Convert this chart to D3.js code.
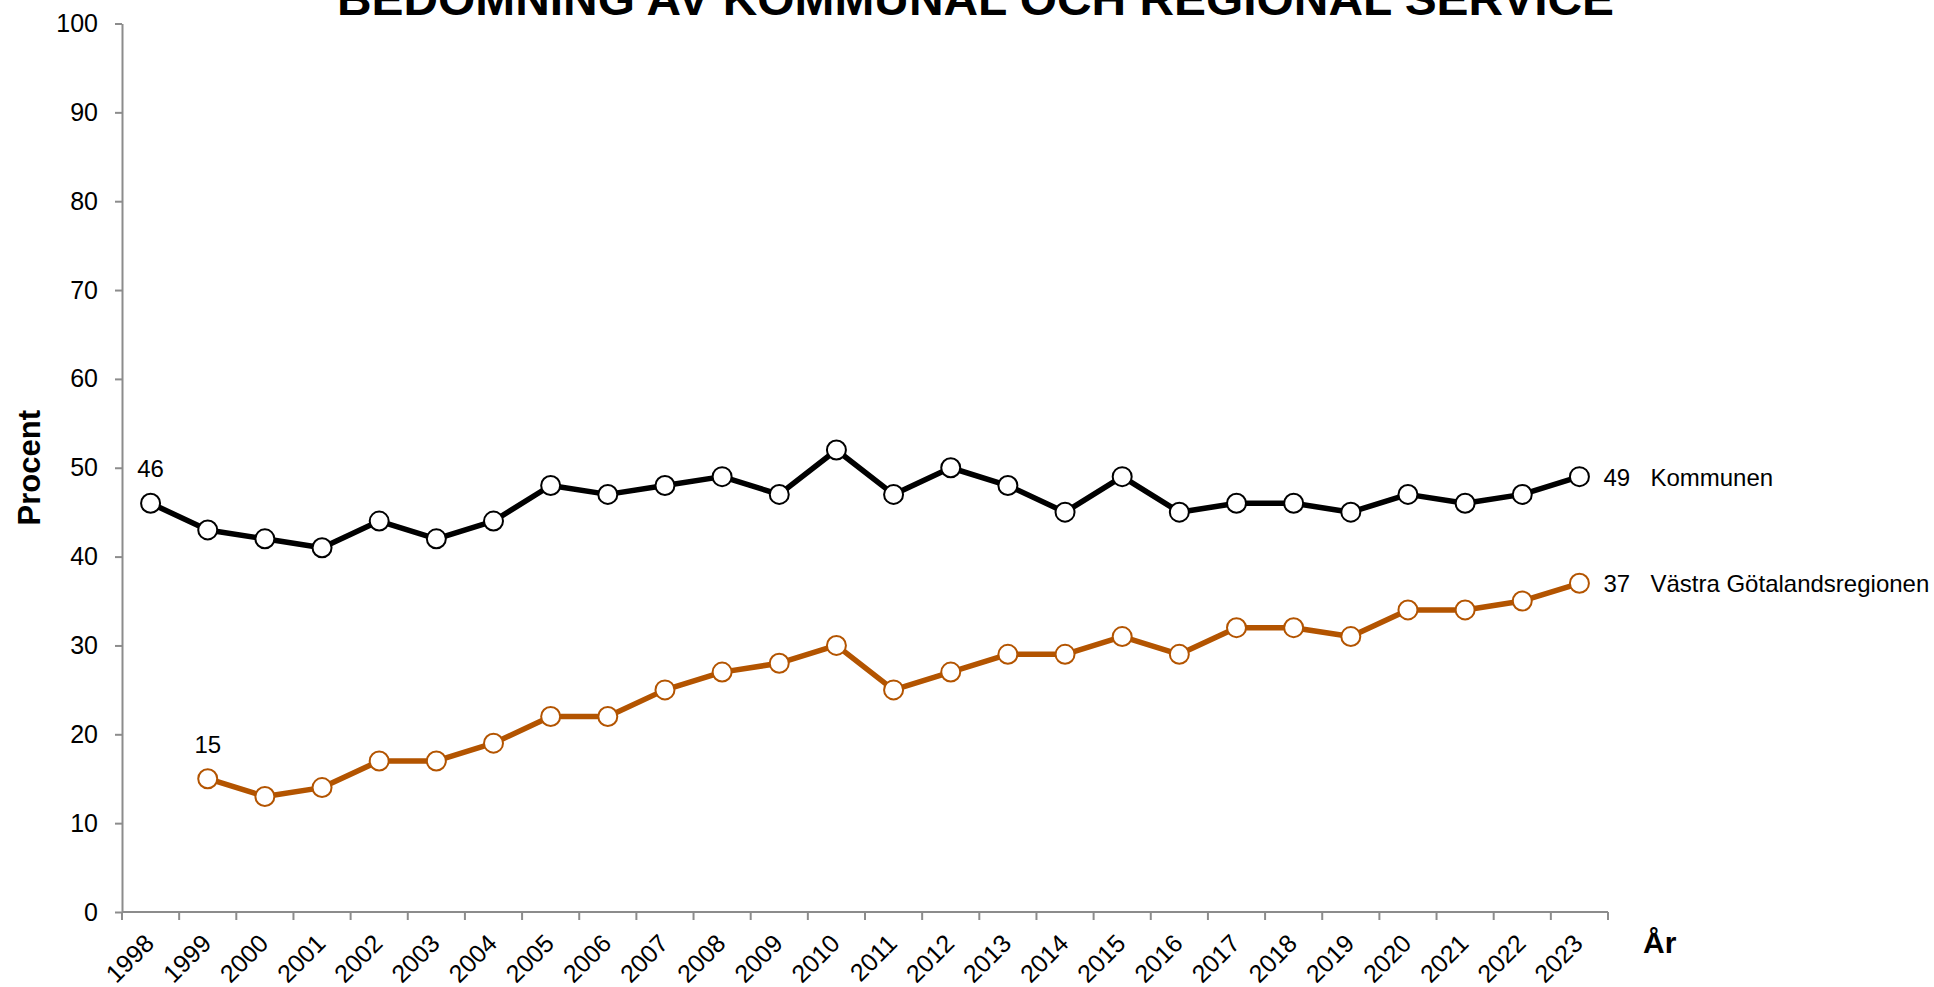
<!DOCTYPE html>
<html>
<head>
<meta charset="utf-8">
<script src="https://cdn.jsdelivr.net/npm/d3@7"></script>
<style>
  html, body { margin: 0; padding: 0; background: #fff; }
  svg { display: block; font-family: "Liberation Sans", Arial, sans-serif; }
  .axis path, .axis line { stroke: #8c8c8c; stroke-width: 2; }
  .axis text { fill: #000; }
</style>
</head>
<body>
<svg id="chart" width="1934" height="987"></svg>
<script>
// Data
const years = ['1998','1999','2000','2001','2002','2003','2004','2005','2006','2007','2008','2009','2010',
  '2011','2012','2013','2014','2015','2016','2017','2018','2019','2020','2021','2022','2023']
const kommunen = [46,43,42,41,44,42,44,48,47,48,49,47,52,47,50,48,45,49,45,46,46,45,47,46,47,49]
const vgr = [null,15,13,14,17,17,19,22,22,25,27,28,30,25,27,29,29,31,29,32,32,31,34,34,35,37]
const y_ticks = [0,10,20,30,40,50,60,70,80,90,100]

const series = [
  { name: 'Kommunen', values: kommunen, color: '#000000' },
  { name: 'Västra Götalandsregionen', values: vgr, color: '#b35400' }
]

const svg = d3.select('#chart')

// Scales
let x = d3.scaleBand().domain(years).range([122, 1608]).padding(0)
let y = d3.scaleLinear().domain([0, 100]).range([912, 23.5])
let cx = d => x(d) + x.bandwidth() / 2

// Title (top is cut off in the original)
svg.append('text')
  .attr('x', 337)
  .attr('y', 15)
  .attr('textLength', 1277)
  .attr('lengthAdjust', 'spacingAndGlyphs')
  .style('font-size', '46px')
  .style('font-weight', 'bold')
  .text('BEDÖMNING AV KOMMUNAL OCH REGIONAL SERVICE')

// Y axis
let y_axis = svg.append('g')
  .attr('class', 'axis')
  .attr('transform', 'translate(122,0)')
  .call(d3.axisLeft(y).tickValues(y_ticks).tickSize(7).tickPadding(17).tickSizeOuter(0))
y_axis.selectAll('text').style('font-size', '25px')

// X axis line and boundary ticks
let x_axis = svg.append('g').attr('class', 'axis')
x_axis.append('line')
  .attr('x1', 122).attr('x2', 1608)
  .attr('y1', y(0)).attr('y2', y(0))
let bounds = years.map(d => x(d)).concat([x.range()[1]])
x_axis.selectAll('.btick')
  .data(bounds)
  .enter()
  .append('line')
    .attr('class', 'btick')
    .attr('x1', d => d).attr('x2', d => d)
    .attr('y1', y(0)).attr('y2', y(0) + 8)

// Year labels
svg.append('g')
  .selectAll('text')
  .data(years)
  .enter()
  .append('text')
    .attr('text-anchor', 'end')
    .attr('transform', d => `translate(${cx(d) + 5},${y(0) + 33}) rotate(-45)`)
    .style('font-size', '25px')
    .text(d => d)

// Axis titles
svg.append('text')
  .attr('transform', `translate(40,${y(50)}) rotate(-90)`)
  .attr('text-anchor', 'middle')
  .style('font-size', '31px')
  .style('font-weight', 'bold')
  .text('Procent')

svg.append('text')
  .attr('x', 1643)
  .attr('y', 953)
  .style('font-size', '30px')
  .style('font-weight', 'bold')
  .text('År')

// Lines and markers
let line = d3.line()
  .defined(d => d[1] != null)
  .x(d => cx(d[0]))
  .y(d => y(d[1]))

for (let s of series) {
  let pts = years.map((yr, i) => [yr, s.values[i]])
  let g = svg.append('g')

  g.append('path')
    .datum(pts)
    .attr('fill', 'none')
    .attr('stroke', s.color)
    .attr('stroke-width', 5.5)
    .attr('stroke-linejoin', 'round')
    .attr('d', line)

  g.selectAll('circle')
    .data(pts.filter(d => d[1] != null))
    .enter()
    .append('circle')
      .attr('cx', d => cx(d[0]))
      .attr('cy', d => y(d[1]))
      .attr('r', 9.5)
      .attr('fill', '#fff')
      .attr('stroke', s.color)
      .attr('stroke-width', 2)

  // First value above first point
  let first = pts.find(d => d[1] != null)
  g.append('text')
    .attr('x', cx(first[0]))
    .attr('y', y(first[1]) - 26)
    .attr('text-anchor', 'middle')
    .style('font-size', '24px')
    .text(first[1])

  // Last value and series name
  let last = pts[pts.length - 1]
  g.append('text')
    .attr('x', cx(last[0]) + 24)
    .attr('y', y(last[1]) + 9)
    .style('font-size', '24px')
    .text(last[1])
  g.append('text')
    .attr('x', cx(last[0]) + 71)
    .attr('y', y(last[1]) + 9)
    .style('font-size', '24px')
    .text(s.name)
}
</script>
</body>
</html>
